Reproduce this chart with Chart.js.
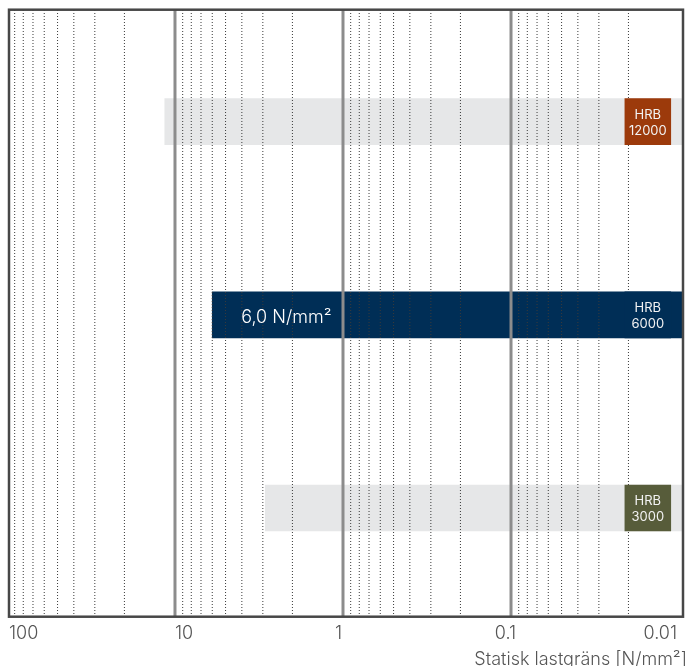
<!DOCTYPE html>
<html>
<head>
<meta charset="utf-8">
<script src="https://cdn.jsdelivr.net/npm/chart.js@4.4.1/dist/chart.umd.min.js"></script>
<style>
  html, body { margin: 0; padding: 0; background: #fff; }
</style>
</head>
<body>
<canvas id="myChart" width="688" height="666"></canvas>
<script>
// Данные

const series = ['HRB 12000', 'HRB 6000', 'HRB 3000']
const seriesLines = [['HRB', '12000'], ['HRB', '6000'], ['HRB', '3000']]
const loadLimit = [11.5, 6.0, 2.9] // N/mm2, левый край полосы
const highlightIndex = 1
const tickValues = [100, 10, 1, 0.1, 0.01]
const tickLabels = ['100', '10', '1', '0.1', '0.01']
const axisTitle = 'Statisk lastgräns [N/mm²]'

const xMin = 0.00947
const xMax = 98.6
const badgeFrom = 0.021
const badgeTo = 0.0112

const barColors = ['#e6e7e8', '#002e56', '#e6e7e8']
const badgeColors = ['#9c3a0b', '#002e56', '#575c3a']
const font = '"Inter", "Roboto", "Liberation Sans", sans-serif'

// Сетка рисуется поверх серых полос, но под плашками
const gridPlugin = {
    id: 'logGrid',
    afterDatasetDraw(chart, args) {
        if (args.index !== 1) return
        const { ctx, chartArea: a, scales: { x } } = chart
        ctx.save()
        ctx.strokeStyle = '#3a3a3a'
        ctx.lineWidth = 1
        ctx.setLineDash([1, 2])
        for (let e = -2; e <= 1; e++) {
            for (let k = 2; k <= 9; k++) {
                const px = x.getPixelForValue(k * Math.pow(10, e))
                if (px <= a.left + 1 || px >= a.right - 1) continue
                ctx.beginPath()
                ctx.moveTo(px, a.top)
                ctx.lineTo(px, a.bottom)
                ctx.stroke()
            }
        }
        ctx.setLineDash([])
        ctx.strokeStyle = '#8c8c8c'
        ctx.lineWidth = 3
        tickValues.forEach(v => {
            const px = x.getPixelForValue(v)
            if (px <= a.left + 2 || px >= a.right - 5) return
            ctx.beginPath()
            ctx.moveTo(px, a.top)
            ctx.lineTo(px, a.bottom)
            ctx.stroke()
        })
        ctx.restore()
    }
}

// Рамка, подписи осей и текст на полосах
const textPlugin = {
    id: 'texts',
    afterDraw(chart) {
        const { ctx, chartArea: a, scales: { x, y } } = chart
        ctx.save()

        ctx.strokeStyle = '#474747'
        ctx.lineWidth = 2.5
        ctx.strokeRect(a.left + 1, a.top - 0.3, a.right - a.left - 1, a.bottom - a.top)

        ctx.fillStyle = '#555'
        ctx.font = '300 18px ' + font
        ctx.textBaseline = 'alphabetic'
        const aligns = ['left', 'left', 'right', 'right', 'right']
        const shifts = [2, 0, -1, 5, -2]
        tickValues.forEach((v, i) => {
            ctx.textAlign = aligns[i]
            ctx.fillText(tickLabels[i], x.getPixelForValue(v) + shifts[i], 639)
        })
        ctx.textAlign = 'right'
        ctx.fillText(axisTitle, 687, 665)

        ctx.fillStyle = '#f2f2f2'
        ctx.font = '13px ' + font
        ctx.textAlign = 'center'
        const cx = (x.getPixelForValue(badgeFrom) + x.getPixelForValue(badgeTo)) / 2
        series.forEach((s, i) => {
            const cy = y.getPixelForValue(i)
            ctx.fillText(seriesLines[i][0], cx, cy - 3)
            ctx.fillText(seriesLines[i][1], cx, cy + 13)
        })

        const hy = y.getPixelForValue(highlightIndex)
        ctx.font = '300 18px ' + font
        ctx.textAlign = 'left'
        ctx.fillStyle = '#ffffff'
        const txt = loadLimit[highlightIndex].toFixed(1).replace('.', ',') + ' N/mm²'
        ctx.fillText(txt, x.getPixelForValue(loadLimit[highlightIndex]) + 29, hy + 8.5)

        ctx.restore()
    }
}

const ctx = document.getElementById('myChart').getContext('2d')

const myChart = new Chart(ctx, {
    type: 'bar',
    data: {
        datasets: [
            {
                label: 'badge',
                data: series.map((s, i) => ({ x: [badgeFrom, badgeTo], y: i })),
                backgroundColor: badgeColors,
                barThickness: 46,
                grouped: false
            },
            {
                label: 'range',
                data: loadLimit.map((v, i) => ({ x: [v, xMin], y: i })),
                backgroundColor: barColors,
                barThickness: 46,
                grouped: false
            }
        ]
    },
    options: {
        indexAxis: 'y',
        responsive: false,
        animation: false,
        layout: { padding: { left: 8, top: 10, right: 5, bottom: 49 } },
        scales: {
            x: { type: 'logarithmic', reverse: true, min: xMin, max: xMax, display: false },
            y: { type: 'linear', reverse: true, offset: false, min: -0.578, max: 2.564, display: false }
        },
        plugins: {
            legend: { display: false },
            tooltip: { enabled: false }
        }
    },
    plugins: [gridPlugin, textPlugin]
})
</script>
</body>
</html>
